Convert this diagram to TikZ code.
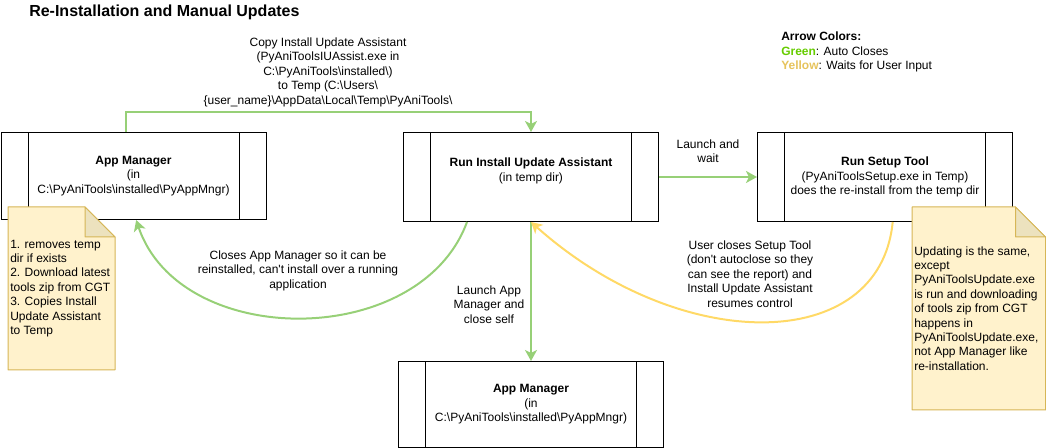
\documentclass[tikz,border=0pt]{standalone}
\usepackage{fontspec}
\setmainfont{Liberation Sans}
\usetikzlibrary{arrows.meta,calc}
\definecolor{autogreen}{HTML}{97D077}
\definecolor{waityellow}{HTML}{FFD966}
\definecolor{legendgreen}{HTML}{66CC00}
\definecolor{legendyellow}{HTML}{E6C35C}
\definecolor{notefill}{HTML}{FFF2CC}
\definecolor{noteline}{HTML}{D6B656}
\definecolor{notefold}{HTML}{ECE2BE}
\newcommand{\bsl}{\textbackslash}
\begin{document}
\begin{tikzpicture}[x=0.75pt,y=-0.75pt,font=\fontsize{9pt}{10.8pt}\selectfont]

    \tikzset{
      procbox/.style={
        draw,
        line width=0.75pt,
        fill=white,
        inner sep=0pt,
        align=center,
        anchor=north west,
        path picture={
          \draw[line width=0.75pt] ([xshift=20.25pt]path picture bounding box.north west) -- ([xshift=20.25pt]path picture bounding box.south west);
          \draw[line width=0.75pt] ([xshift=-20.25pt]path picture bounding box.north east) -- ([xshift=-20.25pt]path picture bounding box.south east);
        },
      },
      notepaper/.style={fill=notefill, draw=noteline, line width=0.75pt, line join=round},
      notefoldpart/.style={fill=notefold, draw=noteline, line width=0.75pt, line join=round},
      notetext/.style={inner sep=1.5pt, align=left, anchor=west},
      lbl/.style={align=center, inner sep=0pt, anchor=north},
      greenarrow/.style={draw=autogreen, line width=1.5pt, -{Stealth[length=8.25pt,width=9pt,inset=2.25pt]}},
      yellowarrow/.style={draw=waityellow, line width=1.5pt, -{Stealth[length=8.25pt,width=9pt,inset=2.25pt]}},
    }
    \useasboundingbox (0,0) rectangle (1046,448);

    \node[anchor=west, inner sep=0pt, font=\fontsize{12pt}{14pt}\selectfont\bfseries] (title) at (29,12) {Re-Installation and Manual Updates};
    \node[anchor=north west, align=left, inner sep=0pt] (legend) at (781,32) {\textbf{Arrow Colors:}\\\textcolor{legendgreen}{\textbf{Green}}: Auto Closes\\\textcolor{legendyellow}{\textbf{Yellow}}: Waits for User Input};

	\node[procbox, minimum width=198.75pt, minimum height=65.25pt] (am1) at (0.5,132) {\textbf{App Manager}\\(in\\C:\bsl PyAniTools\bsl installed\bsl PyAppMngr)};
	\node[procbox, minimum width=191.25pt, minimum height=66.75pt] (ia) at (403,132) {\textbf{Run Install Update Assistant}\\(in temp dir)\\~};
	\node[procbox, minimum width=191.25pt, minimum height=66.75pt] (st) at (757,132) {\textbf{Run Setup Tool}\\(PyAniToolsSetup.exe in Temp)\\does the re-install from the temp dir};
	\node[procbox, minimum width=198.75pt, minimum height=64.5pt] (am2) at (398,361) {\textbf{App Manager}\\(in\\C:\bsl PyAniTools\bsl installed\bsl PyAppMngr)};

	\draw[greenarrow] ($(am1.north west)!0.47!(am1.north east)$) -- ++(0,-20) -| (ia.north);
	\draw[greenarrow] (ia.east) -- (st.west);
	\draw[greenarrow] ($(ia.south west)!0.25!(ia.south east)$) .. controls (420,350) and (180,350) .. ($(am1.south west)!0.51!(am1.south east)$);
	\draw[greenarrow] (ia.south) -- (am2.north);
	\draw[yellowarrow] ($(st.south west)!0.53!(st.south east)$) .. controls (880,355) and (680,355) .. (ia.south);

	\node[lbl] (copylbl) at (328,37.5) {Copy Install Update Assistant\\(PyAniToolsIUAssist.exe in\\C:\bsl PyAniTools\bsl installed\bsl)\\to Temp (C:\bsl Users\bsl\\\{user\_name\}\bsl AppData\bsl Local\bsl Temp\bsl PyAniTools\bsl};
	\node[lbl] (waitlbl) at (708,139.5) {Launch and\\wait};
	\node[lbl] (closelbl) at (298,250.5) {Closes App Manager so it can be\\reinstalled, can\textquotesingle t install over a running\\application};
	\node[lbl] (launchlbl) at (489,285.5) {Launch App\\Manager and\\close self};
	\node[lbl] (userlbl) at (750,240.5) {User closes Setup Tool\\(don\textquotesingle t autoclose so they\\can see the report) and\\Install Update Assistant\\resumes control};

	% notes lie over the boxes
	\draw[notepaper] (8,207) -- (85,207) -- (115,237) -- (115,370) -- (8,370) -- cycle;
	\draw[notefoldpart] (85,207) -- (85,237) -- (115,237) -- cycle;
	\node[notetext] (note1) at (8,288.5) {1. removes temp\\dir if exists\\2. Download latest\\tools zip from CGT\\3. Copies Install\\Update Assistant\\to Temp};
	\draw[notepaper] (912,207) -- (1015.5,207) -- (1045.5,237) -- (1045.5,410) -- (912,410) -- cycle;
	\draw[notefoldpart] (1015.5,207) -- (1015.5,237) -- (1045.5,237) -- cycle;
	\node[notetext] (note2) at (912,308.5) {Updating is the same,\\except\\PyAniToolsUpdate.exe\\is run and downloading\\of tools zip from CGT\\happens in\\PyAniToolsUpdate.exe,\\not App Manager like\\re-installation.};

\end{tikzpicture}
\end{document}
